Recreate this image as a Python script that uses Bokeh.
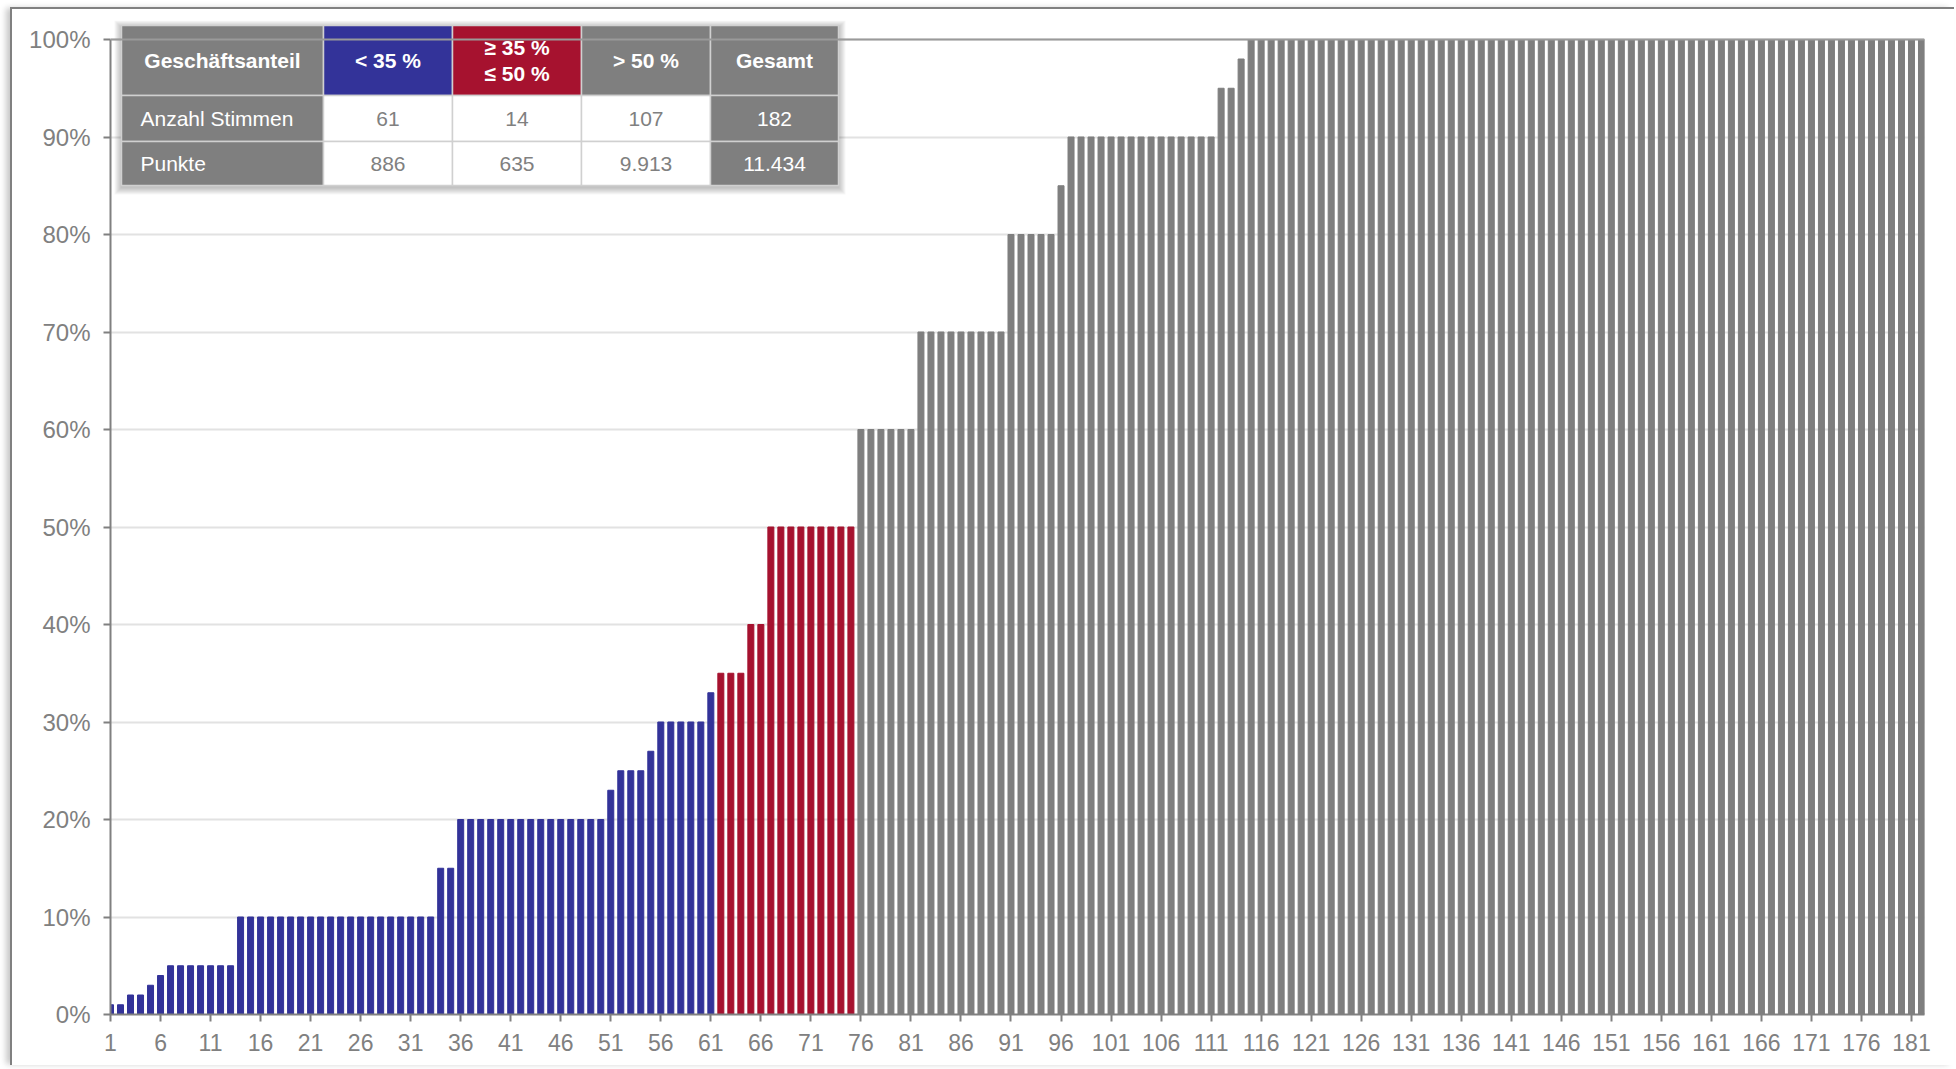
from bokeh.plotting import figure
from bokeh.models import Range1d, FixedTicker, Span, ColumnDataSource
from bokeh.core.properties import value
from bokeh.embed import file_html
from bokeh.resources import INLINE

# ---------------- data ----------------
categories = ["< 35 %", "≥ 35 % ≤ 50 %", "> 50 %"]
cat_colors = ["#333399", "#A6122F", "#7F7F7F"]

# share of business (%) per vote, sorted ascending
blue_vals = [1, 1, 2, 2, 3, 4, 5, 5, 5, 5, 5, 5, 5,
             10, 10, 10, 10, 10, 10, 10, 10, 10, 10,
             10, 10, 10, 10, 10, 10, 10, 10, 10, 10,
             15, 15,
             20, 20, 20, 20, 20, 20, 20, 20, 20, 20, 20, 20, 20, 20, 20,
             23, 25, 25, 25, 27, 30, 30, 30, 30, 30, 33]
red_vals = [35, 35, 35, 40, 40, 50, 50, 50, 50, 50, 50, 50, 50, 50]
grey_vals = [60, 60, 60, 60, 60, 60,
             70, 70, 70, 70, 70, 70, 70, 70, 70,
             80, 80, 80, 80, 80,
             85,
             90, 90, 90, 90, 90, 90, 90, 90, 90, 90, 90, 90, 90, 90, 90,
             95, 95, 98,
             100, 100, 100, 100, 100, 100, 100, 100, 100, 100,
             100, 100, 100, 100, 100, 100, 100, 100, 100, 100,
             100, 100, 100, 100, 100, 100, 100, 100, 100, 100,
             100, 100, 100, 100, 100, 100, 100, 100, 100, 100,
             100, 100, 100, 100, 100, 100, 100, 100, 100, 100,
             100, 100, 100, 100, 100, 100, 100, 100, 100, 100,
             100, 100, 100, 100, 100, 100, 100, 100]

x_ticks = [1, 6, 11, 16, 21, 26, 31, 36, 41, 46, 51, 56, 61, 66, 71, 76, 81,
           86, 91, 96, 101, 106, 111, 116, 121, 126, 131, 136, 141, 146, 151,
           156, 161, 166, 171, 176, 181]
y_ticks = [0, 10, 20, 30, 40, 50, 60, 70, 80, 90, 100]
y_tick_labels = ["0%", "10%", "20%", "30%", "40%", "50%", "60%", "70%", "80%", "90%", "100%"]

# summary table
table_header = ["Geschäftsanteil", "< 35 %", "≥ 35 %\n≤ 50 %", "> 50 %", "Gesamt"]
row_labels = ["Anzahl Stimmen", "Punkte"]
anzahl_stimmen = ["61", "14", "107", "182"]
punkte = ["886", "635", "9.913", "11.434"]

# ---------------- bars ----------------
groups = [blue_vals, red_vals, grey_vals]
xs, tops, cols = [], [], []
i = 1
for vals, col in zip(groups, cat_colors):
    for v in vals:
        xs.append(i)
        tops.append(v)
        cols.append(col)
        i += 1
src = ColumnDataSource(dict(x=xs, top=tops, color=cols))

Y_TOP = 100 * 994 / 975

p = figure(width=1944, height=1058, x_range=Range1d(1, 182.3), y_range=Range1d(0, Y_TOP),
           output_backend="svg", toolbar_location=None,
           min_border_left=98, min_border_right=32, min_border_top=11, min_border_bottom=53)
p.styles = {"margin-top": "7px", "margin-left": "10px",
            "border-top": "2px solid #808080", "border-left": "2px solid #808080",
            "box-shadow": "-5px 0px 6px -1px rgba(0,0,0,0.22)"}
p.outline_line_color = None
p.background_fill_color = "white"
p.border_fill_color = "white"

p.vbar(x="x", top="top", width=0.6, color="color", source=src)

# axes
GREY = "#808080"
p.xgrid.visible = False
p.ygrid.grid_line_color = "#e2e2e2"
p.ygrid.grid_line_width = 2

p.xaxis.ticker = FixedTicker(ticks=x_ticks)
p.yaxis.ticker = FixedTicker(ticks=y_ticks)
p.yaxis.major_label_overrides = {t: l for t, l in zip(y_ticks, y_tick_labels)}
p.yaxis.bounds = (0, 100)
for ax in (p.xaxis[0], p.yaxis[0]):
    ax.axis_line_color = GREY
    ax.axis_line_width = 2
    ax.major_tick_line_color = GREY
    ax.major_tick_line_width = 2
    ax.major_tick_out = 7
    ax.major_tick_in = 0
    ax.minor_tick_line_color = None
    ax.major_label_text_color = GREY
    ax.major_label_text_font = "Liberation Sans"
p.yaxis.major_label_text_font_size = "24px"
p.xaxis.major_label_text_font_size = "23px"
p.yaxis.major_label_standoff = 13
p.xaxis.major_label_standoff = 12

p.add_layout(Span(location=100, dimension="width", line_color="#9a9a9a", line_width=2))

# ---------------- table (pixel layout, page coordinates) ----------------
p.extra_x_ranges = {"px": Range1d(110, 1924)}
p.extra_y_ranges = {"py": Range1d(1014, 20)}
TX = [121, 323, 452, 581, 710, 838]
TY = [25, 95, 141, 185]

# soft shadow
for k in range(1, 8):
    p.quad(left=[TX[0] - k], right=[TX[-1] + k], top=[TY[0] - k + 2], bottom=[TY[-1] + k + 2],
           fill_color="black", fill_alpha=0.035, line_color=None,
           x_range_name="px", y_range_name="py")

header_fill = ["#7F7F7F", "#333399", "#A6122F", "#7F7F7F", "#7F7F7F"]
body_fill = ["#7F7F7F", "#FFFFFF", "#FFFFFF", "#FFFFFF", "#7F7F7F"]
ql, qr, qt, qb, qf = [], [], [], [], []
for r in range(3):
    for c in range(5):
        ql.append(TX[c]); qr.append(TX[c + 1]); qt.append(TY[r]); qb.append(TY[r + 1])
        qf.append(header_fill[c] if r == 0 else body_fill[c])
p.quad(left=ql, right=qr, top=qt, bottom=qb, fill_color=qf, line_color="#d0d0d0",
       line_width=1.5, x_range_name="px", y_range_name="py")

FONT = value("Liberation Sans")
# header texts
hx, hy, ht = [], [], []
for c, lab in enumerate(table_header):
    lines = lab.split("\n")
    cx = (TX[c] + TX[c + 1]) / 2
    cy = (TY[0] + TY[1]) / 2
    n = len(lines)
    for j, ln in enumerate(lines):
        hx.append(cx)
        hy.append(cy + (j - (n - 1) / 2) * 26)
        ht.append(ln)
p.text(x=hx, y=hy, text=ht, text_align="center", text_baseline="middle",
       text_color="white", text_font=FONT, text_font_style="bold",
       text_font_size=value("21px"), x_range_name="px", y_range_name="py")

# row labels
ry = [(TY[1] + TY[2]) / 2, (TY[2] + TY[3]) / 2]
p.text(x=[140, 140], y=ry, text=row_labels, text_align="left", text_baseline="middle",
       text_color="white", text_font=FONT, text_font_size=value("21px"),
       x_range_name="px", y_range_name="py")

# values
vx, vy, vt, vc = [], [], [], []
for r, row in enumerate([anzahl_stimmen, punkte]):
    for c, v in enumerate(row):
        vx.append((TX[c + 1] + TX[c + 2]) / 2)
        vy.append(ry[r])
        vt.append(v)
        vc.append("white" if c == 3 else GREY)
p.text(x=vx, y=vy, text=vt, text_color=vc, text_align="center", text_baseline="middle",
       text_font=FONT, text_font_size=value("21px"), x_range_name="px", y_range_name="py")

open("out.html", "w").write(file_html(p, INLINE))
